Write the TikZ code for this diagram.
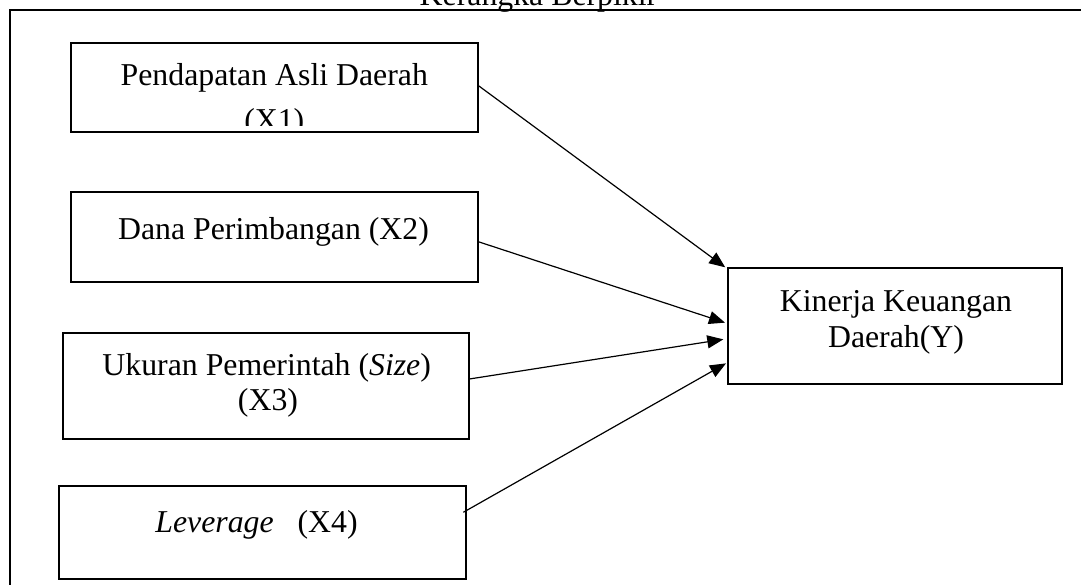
\documentclass[tikz,border=0pt]{standalone}
\usepackage{fontspec}
\setmainfont{Liberation Serif}
\usetikzlibrary{arrows.meta}
\begin{document}
\begin{tikzpicture}[x=1pt,y=-1pt,
  box/.style={draw, line width=2pt, inner sep=0pt, outer sep=0pt},
  lbl/.style={font=\fontsize{31.8}{36}\selectfont, inner sep=0pt, outer sep=0pt, anchor=base},
  arr/.style={line width=1.2pt, -{Triangle[length=16pt,width=13pt]}}]
\useasboundingbox (0,0) rectangle (1081,584);
\clip (0,0) rectangle (1081,584);
\fill[white] (0,0) rectangle (1081,584);
% outer frame (cropped)
\draw[line width=2.6pt] (10,620) -- (10,10) -- (1120,10);
\node[lbl] (title) at (538.5,5.5) {Kerangka Berpikir};
% boxes
\node[box, minimum width=406.5pt, minimum height=88.4pt] (b1) at (274.3,87.5) {};
\node[box, minimum width=407.6pt, minimum height=90pt] (b2) at (274.5,236.7) {};
\node[box, minimum width=406.6pt, minimum height=105.2pt] (b3) at (266,385.9) {};
\node[box, minimum width=407.2pt, minimum height=93pt] (b4) at (262.1,532.3) {};
\node[box, minimum width=334.3pt, minimum height=115.7pt] (ky) at (894.85,326.15) {};
% texts
\node[lbl] (t1a) at (274.3,85) {Pendapatan Asli Daerah};
\begin{scope}
  \clip (72,44) rectangle (477,125);
  \node[lbl] (t1b) at (274.3,130) {(X1)};
\end{scope}
\node[lbl] (t2) at (273.5,239.5) {Dana Perimbangan (X2)};
\node[lbl] (t3a) at (266.7,375) {Ukuran Pemerintah (\textit{Size})};
\node[lbl] (t3b) at (268,410) {(X3)};
\node[lbl] (t4) at (256.5,532) {\textit{Leverage}\hspace{0.75em}(X4)};
\node[lbl] (ty1) at (896,311) {Kinerja Keuangan};
\node[lbl] (ty2) at (896,347) {Daerah(Y)};
% arrows
\draw[arr] ([yshift=2.5pt]b1.east) -- ([xshift=-2.5pt,yshift=1pt]ky.north west);
\draw[arr] ([yshift=-5pt]b2.east) -- ([xshift=-2.7pt,yshift=3.5pt]ky.west);
\draw[arr] ([yshift=6.9pt]b3.east) -- ([xshift=-4.4pt,yshift=-13.2pt]ky.west);
\draw[arr] ([xshift=-2.4pt,yshift=20pt]b4.east) -- ([xshift=-1.7pt,yshift=-37.2pt]ky.west);
\end{tikzpicture}
\end{document}
